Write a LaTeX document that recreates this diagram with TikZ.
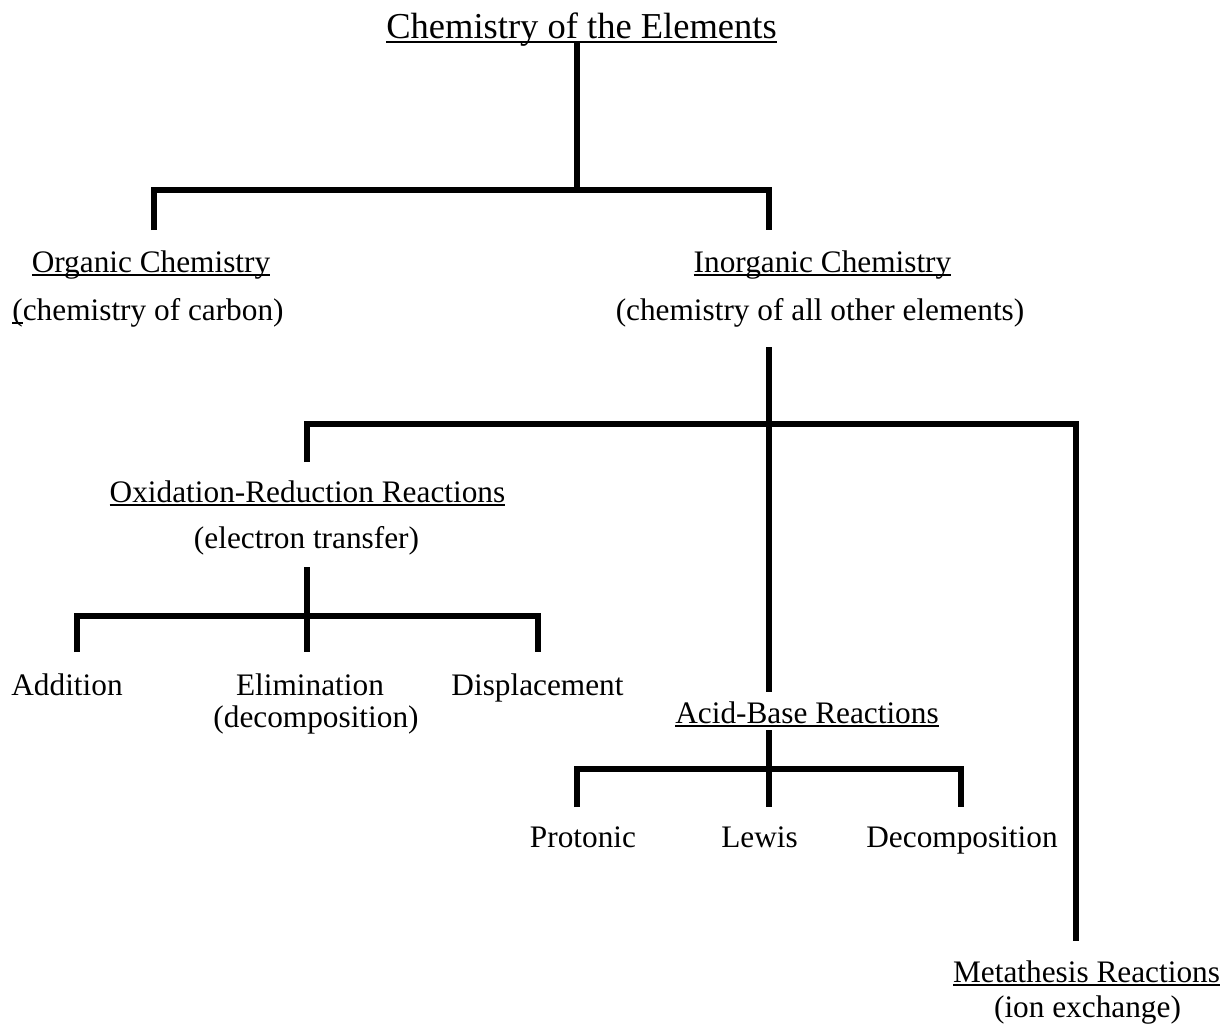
\documentclass[tikz,border=0pt]{standalone}
\usepackage{fontspec}
\setmainfont{Liberation Serif}
\newcommand\myul[1]{\setbox0=\hbox{#1}\rlap{\vrule width \wd0 height -0.075em depth 0.14em}\box0}
\tikzset{
  lbl/.style={anchor=base, inner sep=0pt, font=\fontsize{31.3}{36}\selectfont},
  ttl/.style={anchor=base, inner sep=0pt, font=\fontsize{36.5}{42}\selectfont},
  branch/.style={line width=6pt, line join=miter, draw=black}
}
\begin{document}
\begin{tikzpicture}[x=1pt,y=-1pt]
\useasboundingbox[fill=white] (0,0) rectangle (1225,1026);
% text nodes
\node[ttl] (title) at (581.5,38) {\myul{Chemistry of the Elements}};
\node[lbl] (org) at (151,272) {\myul{Organic Chemistry}};
\node[lbl] (orgsub) at (148,320) {\myul{(}chemistry of carbon)};
\node[lbl] (inorg) at (822.5,272) {\myul{Inorganic Chemistry}};
\node[lbl] (inorgsub) at (820,320) {(chemistry of all other elements)};
\node[lbl] (redox) at (307.5,502) {\myul{Oxidation-Reduction Reactions}};
\node[lbl] (redoxsub) at (306.5,548) {(electron transfer)};
\node[lbl] (add) at (67,695) {Addition};
\node[lbl] (elim) at (310,695) {Elimination};
\node[lbl] (elimsub) at (316,727) {(decomposition)};
\node[lbl] (disp) at (537.5,695) {Displacement};
\node[lbl] (acid) at (807,723) {\myul{Acid-Base Reactions}};
\node[lbl] (prot) at (583,847) {Protonic};
\node[lbl] (lewis) at (759.5,847) {Lewis};
\node[lbl] (decomp) at (962,847) {Decomposition};
\node[lbl] (meta) at (1086.5,982) {\myul{Metathesis Reactions}};
\node[lbl] (metasub) at (1087.5,1017) {(ion exchange)};
% junction coordinates
\coordinate (t0) at (577,42);
\coordinate (j0) at (577,190);
\coordinate (jl) at (154,190);
\coordinate (jr) at (769,190);
\coordinate (el) at (154,230);
\coordinate (er) at (769,230);
\coordinate (i0) at (769,347);
\coordinate (j1) at (769,424);
\coordinate (j1l) at (307,424);
\coordinate (j1r) at (1076,424);
\coordinate (e1l) at (307,462);
\coordinate (e1m) at (769,692);
\coordinate (e1r) at (1076,941);
\coordinate (r0) at (307,567);
\coordinate (j2) at (307,616);
\coordinate (j2l) at (77,616);
\coordinate (j2r) at (538,616);
\coordinate (e2l) at (77,652);
\coordinate (e2m) at (307,652);
\coordinate (e2r) at (538,652);
\coordinate (a0) at (769,730);
\coordinate (j3) at (769,769);
\coordinate (j3l) at (577,769);
\coordinate (j3r) at (961,769);
\coordinate (e3l) at (577,807);
\coordinate (e3m) at (769,807);
\coordinate (e3r) at (961,807);
% connectors
\draw[branch] (t0) -- (j0);
\draw[branch] (el) -- (jl) -- (jr) -- (er);
\draw[branch] (i0) -- (e1m);
\draw[branch] (e1l) -- (j1l) -- (j1r) -- (e1r);
\draw[branch] (r0) -- (e2m);
\draw[branch] (e2l) -- (j2l) -- (j2r) -- (e2r);
\draw[branch] (a0) -- (e3m);
\draw[branch] (e3l) -- (j3l) -- (j3r) -- (e3r);
\end{tikzpicture}
\end{document}
